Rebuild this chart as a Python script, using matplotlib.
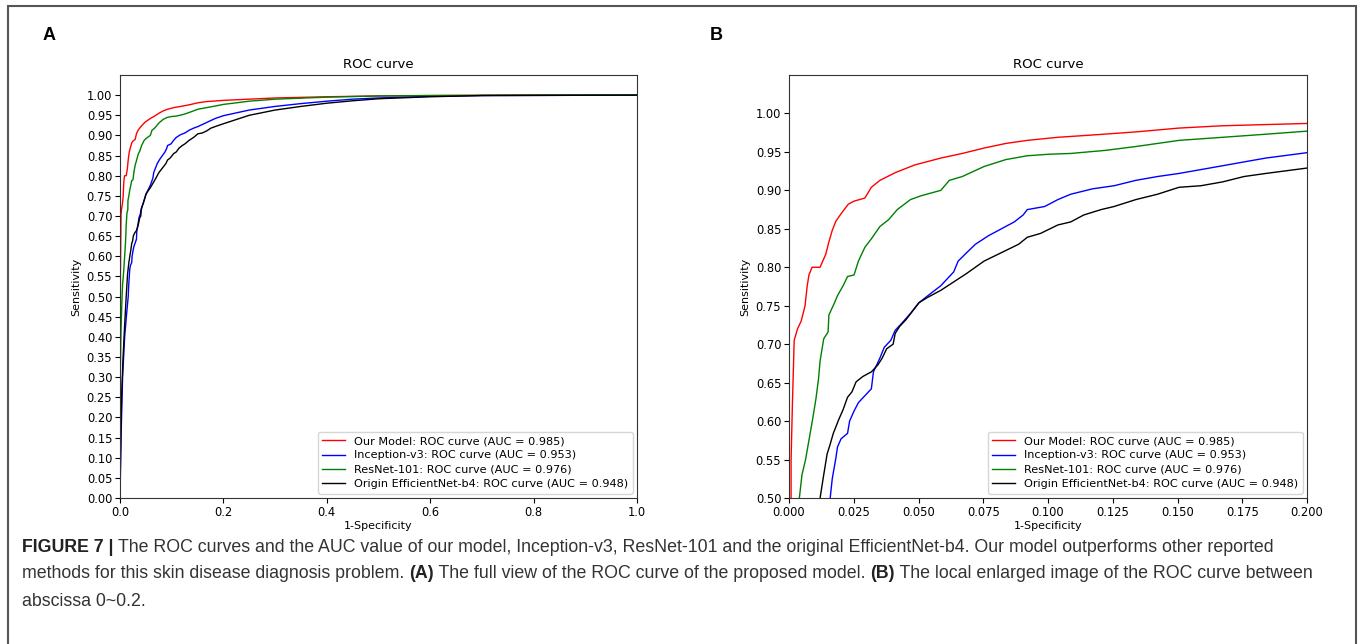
import matplotlib
matplotlib.use("Agg")
import matplotlib.pyplot as plt
from matplotlib.patches import Rectangle

# ROC points (fpr, tpr)
our_fpr = [0, 0, 0.0003, 0.0008, 0.0008, 0.0013, 0.002, 0.0033, 0.0047, 0.0062,
           0.007, 0.0077, 0.0089, 0.012, 0.0142, 0.0154, 0.0167, 0.0181, 0.0204, 0.0229,
           0.0251, 0.0293, 0.0318, 0.0351, 0.041, 0.0485, 0.0586, 0.0669, 0.0753, 0.0837,
           0.092, 0.1038, 0.1172, 0.1339, 0.1506, 0.1674, 0.2, 0.25, 0.3, 0.4,
           0.5, 0.6, 0.8, 1.0]
our_tpr = [0, 0.3, 0.45, 0.5, 0.549, 0.62, 0.705, 0.72, 0.73, 0.75,
           0.775, 0.79, 0.80, 0.80, 0.817, 0.833, 0.848, 0.86, 0.871, 0.882,
           0.886, 0.89, 0.904, 0.913, 0.923, 0.933, 0.942, 0.948, 0.955, 0.961,
           0.965, 0.969, 0.972, 0.976, 0.981, 0.984, 0.987, 0.990, 0.993, 0.996,
           0.998, 0.999, 1.0, 1.0]

inc_fpr = [0, 0.002, 0.005, 0.009, 0.013, 0.0159, 0.0167, 0.0181, 0.0187, 0.0201,
           0.0226, 0.0234, 0.0251, 0.0268, 0.0293, 0.0318, 0.0326, 0.0351, 0.0368, 0.0393,
           0.041, 0.0435, 0.0469, 0.0502, 0.0536, 0.0586, 0.0636, 0.0653, 0.0686, 0.072,
           0.077, 0.082, 0.087, 0.0904, 0.092, 0.0987, 0.1038, 0.1088, 0.1172, 0.1255,
           0.1339, 0.1423, 0.1506, 0.159, 0.1674, 0.1757, 0.1841, 0.2, 0.25, 0.3,
           0.35, 0.4, 0.45, 0.5, 0.6, 0.7, 1.0]
inc_tpr = [0, 0.15, 0.3, 0.4, 0.46, 0.5, 0.525, 0.552, 0.566, 0.577,
           0.584, 0.6, 0.613, 0.624, 0.633, 0.642, 0.664, 0.682, 0.696, 0.705,
           0.718, 0.727, 0.74, 0.754, 0.763, 0.776, 0.794, 0.808, 0.819, 0.83,
           0.841, 0.85, 0.859, 0.868, 0.875, 0.879, 0.888, 0.895, 0.902, 0.906,
           0.913, 0.918, 0.922, 0.927, 0.932, 0.937, 0.942, 0.949, 0.963, 0.972,
           0.979, 0.985, 0.99, 0.993, 0.997, 0.999, 1.0]

res_fpr = [0, 0.0005, 0.002, 0.004, 0.005, 0.0064, 0.0077, 0.0092, 0.0104, 0.0114,
           0.012, 0.0134, 0.0151, 0.0154, 0.0176, 0.0187, 0.0209, 0.0226, 0.0251, 0.0268,
           0.0293, 0.0318, 0.0351, 0.0385, 0.0418, 0.0469, 0.051, 0.0586, 0.0619, 0.0669,
           0.0753, 0.0837, 0.092, 0.1004, 0.1088, 0.1222, 0.1339, 0.1506, 0.1674, 0.1841,
           0.2, 0.25, 0.3, 0.4, 0.5, 0.6, 0.8, 1.0]
res_tpr = [0, 0.3, 0.42, 0.5, 0.53, 0.55, 0.575, 0.604, 0.629, 0.655,
           0.678, 0.707, 0.716, 0.738, 0.754, 0.763, 0.776, 0.788, 0.79, 0.808,
           0.826, 0.837, 0.853, 0.862, 0.875, 0.888, 0.893, 0.90, 0.913, 0.918,
           0.931, 0.94, 0.945, 0.947, 0.948, 0.952, 0.957, 0.965, 0.969, 0.973,
           0.977, 0.985, 0.990, 0.995, 0.998, 0.999, 1.0, 1.0]

eff_fpr = [0, 0.001, 0.003, 0.006, 0.009, 0.012, 0.0134, 0.0147, 0.0159, 0.0171,
           0.0192, 0.0209, 0.0226, 0.0243, 0.0259, 0.0285, 0.0318, 0.0343, 0.036, 0.0377,
           0.0402, 0.041, 0.0427, 0.0452, 0.0477, 0.0502, 0.0536, 0.0586, 0.0636, 0.0686,
           0.0753, 0.082, 0.0887, 0.092, 0.0971, 0.1038, 0.1088, 0.1138, 0.1205, 0.1255,
           0.1339, 0.1423, 0.1506, 0.159, 0.1674, 0.1757, 0.1841, 0.2, 0.25, 0.3,
           0.35, 0.4, 0.45, 0.5, 0.6, 0.7, 1.0]
eff_tpr = [0, 0.1, 0.25, 0.35, 0.43, 0.5, 0.53, 0.557, 0.57, 0.584,
           0.602, 0.615, 0.631, 0.638, 0.651, 0.658, 0.664, 0.673, 0.682, 0.694,
           0.70, 0.714, 0.723, 0.732, 0.743, 0.754, 0.761, 0.77, 0.781, 0.792,
           0.808, 0.819, 0.83, 0.839, 0.844, 0.855, 0.859, 0.868, 0.875, 0.879,
           0.888, 0.895, 0.904, 0.906, 0.911, 0.918, 0.922, 0.929, 0.95, 0.963,
           0.972, 0.98, 0.986, 0.991, 0.996, 0.999, 1.0]

labels = ["Our Model: ROC curve (AUC = 0.985)",
          "Inception-v3: ROC curve (AUC = 0.953)",
          "ResNet-101: ROC curve (AUC = 0.976)",
          "Origin EfficientNet-b4: ROC curve (AUC = 0.948)"]
colors = ["r", "b", "g", "k"]
curves = [(our_fpr, our_tpr), (inc_fpr, inc_tpr), (res_fpr, res_tpr), (eff_fpr, eff_tpr)]

W, H = 1360, 644
fig = plt.figure(figsize=(W / 100, H / 100), dpi=100)

def fbox(l, t, r, b):
    return [l / W, 1 - b / H, (r - l) / W, (b - t) / H]

axA = fig.add_axes(fbox(120, 75, 637, 498))
axB = fig.add_axes(fbox(789, 75, 1307, 498))

for ax in (axA, axB):
    for (x, y), c, lab in zip(curves, colors, labels):
        ax.plot(x, y, color=c, lw=1.0, label=lab)
    ax.set_title("ROC curve", fontsize=9.5, pad=5)
    ax.set_xlabel("1-Specificity", fontsize=8, labelpad=2)
    ax.set_ylabel("Sensitivity", fontsize=8, labelpad=4)
    ax.tick_params(labelsize=8.3, length=3.5, width=0.8, pad=2)
    for s in ax.spines.values():
        s.set_color("#333333")
    ax.legend(loc="lower right", fontsize=8.1, handlelength=2.0,
              borderaxespad=0.4, labelspacing=0.38, borderpad=0.4)

axA.set_xlim(0, 1)
axA.set_ylim(0, 1.05)
axA.set_yticks([i * 0.05 for i in range(21)])
axA.set_xticks([0, 0.2, 0.4, 0.6, 0.8, 1.0])

axB.set_xlim(0, 0.2)
axB.set_ylim(0.5, 1.05)
axB.set_yticks([0.5 + i * 0.05 for i in range(11)])
axB.set_xticks([i * 0.025 for i in range(9)])
axB.xaxis.set_major_formatter(matplotlib.ticker.FormatStrFormatter("%.3f"))
axA.yaxis.set_major_formatter(matplotlib.ticker.FormatStrFormatter("%.2f"))
axB.yaxis.set_major_formatter(matplotlib.ticker.FormatStrFormatter("%.2f"))

# outer frame
fig.patches.append(Rectangle((8 / W, -0.05), (1356 - 8) / W, 1 - 6 / H + 0.05,
                             transform=fig.transFigure, fill=False,
                             edgecolor="#555555", lw=1.5))

fig.text(43 / W, 1 - 36 / H, "A", fontsize=13, fontweight="bold",
         family="Liberation Sans", va="center", ha="left")
fig.text(710 / W, 1 - 36 / H, "B", fontsize=13, fontweight="bold",
         family="Liberation Sans", va="center", ha="left")

# caption with bold runs
cap_lines = [
    [("FIGURE 7 | ", True), ("The ROC curves and the AUC value of our model, Inception-v3, ResNet-101 and the original EfficientNet-b4. Our model outperforms other reported", False)],
    [("methods for this skin disease diagnosis problem. ", False), ("(A)", True),
     (" The full view of the ROC curve of the proposed model. ", False), ("(B)", True),
     (" The local enlarged image of the ROC curve between", False)],
    [("abscissa 0~0.2.", False)],
]
cap_y = [548, 574, 601]
renderer = fig.canvas.get_renderer()
for runs, yy in zip(cap_lines, cap_y):
    x = 22
    for txt, bold in runs:
        t = fig.text(x / W, 1 - yy / H, txt, fontsize=12.8, family="Liberation Sans",
                     fontweight="bold" if bold else "normal",
                     color="#222222" if bold else "#333333", va="center", ha="left")
        bb = t.get_window_extent(renderer)
        x += bb.width

fig.savefig("out.png", dpi=100)
